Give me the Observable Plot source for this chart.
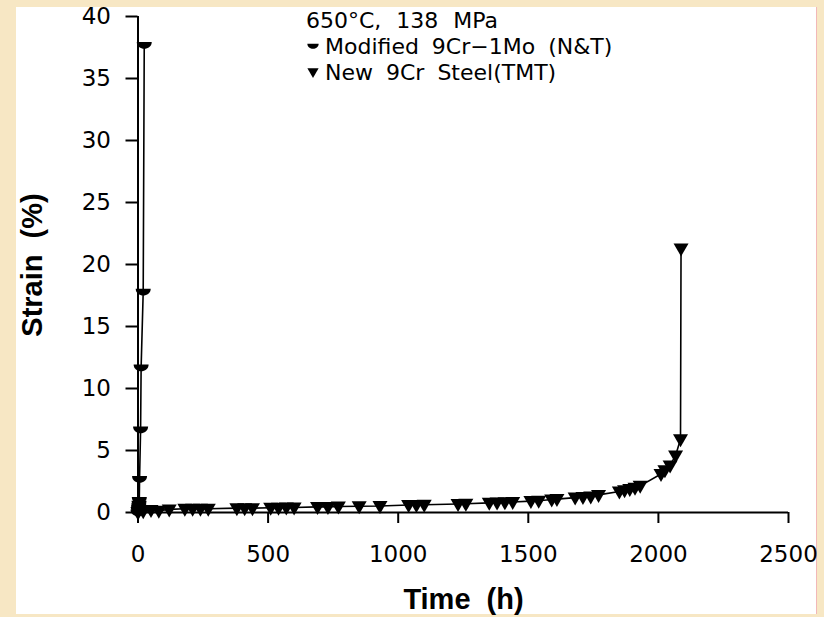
<!DOCTYPE html>
<html><head><meta charset="utf-8">
<script src="https://cdn.jsdelivr.net/npm/d3@7"></script>
<script src="https://cdn.jsdelivr.net/npm/@observablehq/plot@0.6"></script>
<style>
html,body{margin:0;padding:0;}
body{width:824px;height:617px;background:#f7e7c4;position:relative;overflow:hidden;}
#panel{position:absolute;left:16px;top:7px;width:800px;height:607px;background:#fff;border-right:1px solid #f2b8b8;}
#chart{position:absolute;left:0;top:0;}
[aria-label*="axis"]{stroke-width:2;}
</style></head><body>
<div id="panel"></div><div id="chart"></div>
<script>
// New 9Cr Steel (TMT)
const tmtTime = [0, 20, 50, 80, 120, 180, 210, 240, 270, 380, 410, 440, 510, 540, 570, 600, 690, 730, 770, 850, 930, 1040, 1070, 1100, 1230, 1260, 1350, 1380, 1410, 1440, 1510, 1540, 1590, 1610, 1680, 1710, 1740, 1770, 1850, 1870, 1890, 1910, 1930, 2010, 2025, 2045, 2066, 2085, 2087];
const tmtStrain = [0, 0.1, 0.2, 0.15, 0.25, 0.3, 0.3, 0.3, 0.3, 0.35, 0.35, 0.35, 0.38, 0.38, 0.4, 0.4, 0.45, 0.45, 0.48, 0.5, 0.52, 0.6, 0.6, 0.62, 0.68, 0.7, 0.78, 0.8, 0.82, 0.85, 0.92, 0.95, 1.05, 1.08, 1.2, 1.25, 1.3, 1.42, 1.7, 1.8, 1.9, 2.0, 2.15, 3.1, 3.4, 3.8, 4.6, 5.9, 21.3];
// Modified 9Cr-1Mo (N&T)
const modTime = [0, 1, 2, 3, 4, 5, 6, 10, 12, 20, 24];
const modStrain = [0, 0.2, 0.35, 0.5, 0.7, 1.0, 2.7, 6.7, 11.7, 17.8, 37.7];

const xTicks = [0, 500, 1000, 1500, 2000, 2500];
const yTicks = [0, 5, 10, 15, 20, 25, 30, 35, 40];
const legendTitle = "650°C, 138 MPa";
const seriesNames = ["Modified 9Cr−1Mo (N&T)", "New 9Cr Steel(TMT)"];
const xLabel = "Time (h)";
const yLabel = "Strain (%)";

const tmt = tmtTime.map((t, i) => ({t, s: tmtStrain[i]}));
const mod = modTime.map((t, i) => ({t, s: modStrain[i]}));

const halfDisk = {draw(ctx) {
  ctx.moveTo(-7.5, -3); ctx.lineTo(7.5, -3);
  ctx.bezierCurveTo(7.5, 6, -7.5, 6, -7.5, -3); ctx.closePath();
}};
const triDown = {draw(ctx) {
  ctx.moveTo(-7.5, -5); ctx.lineTo(7.5, -5); ctx.lineTo(0, 8); ctx.closePath();
}};

const plot = Plot.plot({
  width: 824, height: 617,
  marginLeft: 137.5, marginRight: 36, marginTop: 16, marginBottom: 105,
  style: {background: "transparent", fontFamily: "DejaVu Sans", fontSize: "23px", color: "#000", overflow: "visible"},
  x: {domain: [0, 2500], ticks: xTicks, tickSize: 11, tickPadding: 22, label: null, tickFormat: d => String(d)},
  y: {domain: [0, 40], ticks: yTicks, tickSize: 12, tickPadding: 15, label: null},
  marks: [
    Plot.ruleY([0], {x1: 0, x2: 2500, stroke: "#000", strokeWidth: 2}),
    Plot.ruleX([0], {y1: 0, y2: 40, stroke: "#000", strokeWidth: 2}),
    Plot.line(mod, {x: "t", y: "s", stroke: "#000", strokeWidth: 1.6}),
    Plot.line(tmt, {x: "t", y: "s", stroke: "#000", strokeWidth: 1.6}),
    Plot.dot(mod, {x: "t", y: "s", symbol: halfDisk, fill: "#000", stroke: "none"}),
    Plot.dot(tmt, {x: "t", y: "s", symbol: triDown, fill: "#000", stroke: "none"})
  ]
});
document.getElementById("chart").appendChild(plot);

const svg = d3.select(plot);
svg.append("text")
  .attr("transform", "translate(31.5,265) rotate(-90)")
  .attr("text-anchor", "middle").attr("dy", "0.35em")
  .style("font-family", "Liberation Sans, Arial, sans-serif").style("font-weight", "bold")
  .style("font-size", "29px").style("word-spacing", "8px")
  .attr("fill", "#000").text(yLabel);
svg.append("text")
  .attr("x", 463.5).attr("y", 609)
  .attr("text-anchor", "middle")
  .style("font-family", "Liberation Sans, Arial, sans-serif").style("font-weight", "bold")
  .style("font-size", "29px").style("word-spacing", "8px")
  .attr("fill", "#000").text(xLabel);

const lg = svg.append("g").style("font-family", "DejaVu Sans").style("font-size", "22px")
  .attr("fill", "#000").attr("text-anchor", "start");
lg.append("text").attr("x", 306).attr("y", 28).attr("text-anchor", "start").style("word-spacing", "8px").text(legendTitle);
const syms = [halfDisk, triDown];
seriesNames.forEach((name, i) => {
  const yb = 54 + i * 26;
  lg.append("path").attr("d", d3.symbol(syms[i])()).attr("transform", `translate(313,${yb - 8}) scale(0.75)`);
  lg.append("text").attr("x", 325).attr("y", yb).attr("text-anchor", "start").style("word-spacing", "6px").text(name);
});
</script>
</body></html>
